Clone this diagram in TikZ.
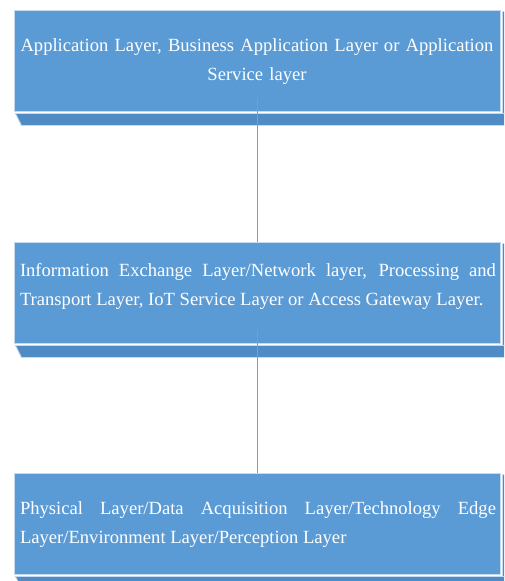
\documentclass[tikz,border=0pt]{standalone}
\usepackage{fontspec}
\setmainfont{Liberation Serif}
\definecolor{boxblue}{HTML}{5B9BD5}
\definecolor{edgeblue}{HTML}{C5DAEE}
\definecolor{sideblue}{HTML}{4F8CC6}
\definecolor{linkgray}{HTML}{7F9DB9}
\begin{document}
\begin{tikzpicture}[x=1pt,y=-1pt,
  layerbox/.style={rectangle, fill=boxblue, draw=edgeblue, line width=1pt,
    minimum width=486pt, minimum height=101pt, inner sep=0pt},
  layertext/.style={text=white, font=\fontsize{18.6}{29}\selectfont, inner sep=0pt},
  link/.style={draw=linkgray, line width=0.8pt}]
\clip (0,0) rectangle (504,581);
\fill[white] (0,0) rectangle (504,581);
% front faces
\node[layerbox] (b1) at (257,60.5) {};
\node[layerbox] (b2) at (257,292.5) {};
\node[layerbox] (b3) at (257,523.5) {};
% bevels
\foreach \n in {b1,b2,b3}{
  \filldraw[fill=sideblue, draw=edgeblue, line width=0.8pt]
    ([shift={(2,2)}]\n.south west) -- ([shift={(12,2)}]\n.south east)
    -- ([shift={(12,14)}]\n.south east) -- ([shift={(8,14)}]\n.south west) -- cycle;
  \filldraw[fill=sideblue, draw=edgeblue, line width=0.8pt]
    ([shift={(2,2)}]\n.north east) -- ([shift={(12,2)}]\n.north east)
    -- ([shift={(12,2)}]\n.south east) -- ([shift={(2,2)}]\n.south east) -- cycle;
}
% connectors
\draw[link] ([yshift=14pt]b1.south) -- (b2.north);
\draw[link] ([yshift=14pt]b2.south) -- (b3.north);
% texts
\node[layertext, text width=476pt, align=center] (t1) at (257,61.5)
  {Application Layer, Business Application Layer or Application\\Service layer};
\node[layertext, text width=476pt, align=justify] (t2) at (258,286)
  {Information Exchange Layer/Network layer, Processing and\linebreak Transport Layer, IoT Service Layer or Access Gateway Layer.};
\node[layertext, text width=476pt, align=justify] (t3) at (258,525)
  {Physical Layer/Data Acquisition Layer/Technology Edge\linebreak Layer/Environment Layer/Perception Layer};
\end{tikzpicture}
\end{document}
